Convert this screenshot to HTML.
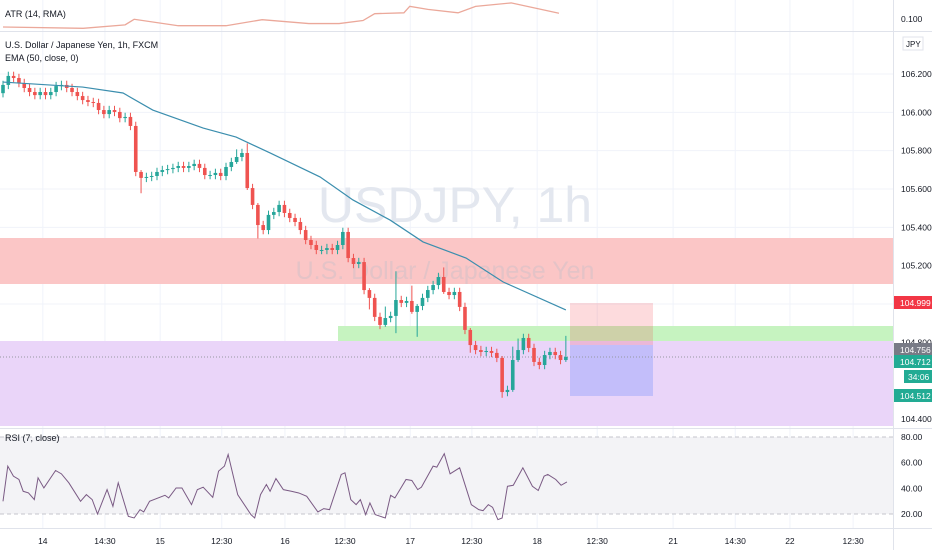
<!DOCTYPE html>
<html><head><meta charset="utf-8"><style>
html,body{margin:0;padding:0;background:#fff;}
svg{display:block;font-family:"Liberation Sans",sans-serif;}
</style></head><body>
<svg id="c" width="932" height="550" viewBox="0 0 932 550" xmlns="http://www.w3.org/2000/svg">
<g id="grid"></g>
<g id="zones">
 <rect x="0" y="238" width="893" height="46" fill="#fbc6c6"/>
 <rect x="338" y="326" width="555" height="15" fill="#c6f3c0"/>
 <rect x="0" y="341" width="893" height="85" fill="#ead5f9"/>
 <rect x="570" y="303" width="83" height="42" fill="rgba(242,54,69,0.18)"/>
 <rect x="570" y="345" width="83" height="51" fill="rgba(41,98,255,0.2)"/>
</g>
<text x="455" y="222" font-size="50" fill="#e3e7ef" text-anchor="middle">USDJPY, 1h</text>
<text x="445" y="279" font-size="25" fill="rgba(200,190,200,0.45)" text-anchor="middle">U.S. Dollar / Japanese Yen</text>
<line x1="0" y1="357" x2="893" y2="357" stroke="#9598a1" stroke-width="1" stroke-dasharray="1,2"/>
<g id="atr"></g>
<g id="candles"></g>
<g id="ema"></g>
<g id="rsi"></g>
<line x1="0" y1="31.5" x2="932" y2="31.5" stroke="#e0e3eb"/>
<line x1="0" y1="428.5" x2="932" y2="428.5" stroke="#e0e3eb"/>
<line x1="0" y1="528.5" x2="932" y2="528.5" stroke="#e0e3eb"/>
<line x1="893.5" y1="0" x2="893.5" y2="550" stroke="#e0e3eb"/>
<text x="5" y="17" font-size="9" fill="#131722">ATR (14, RMA)</text>
<text x="5" y="48" font-size="9" fill="#131722">U.S. Dollar / Japanese Yen, 1h, FXCM</text>
<text x="5" y="61" font-size="9" fill="#131722">EMA (50, close, 0)</text>
<text x="5" y="441" font-size="9" fill="#131722">RSI (7, close)</text>
<text x="901" y="22" font-size="8.5" fill="#131722">0.100</text>
<rect x="903" y="37" width="20" height="13" fill="#fff" stroke="#e0e3eb"/>
<text x="906" y="47" font-size="8" fill="#131722">JPY</text>
<g id="paxis"></g>
<g id="badges"></g>
<g id="taxis"></g>
</svg>
<script>
const NS="http://www.w3.org/2000/svg";
const closes=[106.143,106.190,106.179,106.153,106.127,106.106,106.090,106.106,106.090,106.106,
106.137,106.143,106.127,106.106,106.085,106.064,106.054,106.049,106.012,105.991,
106.012,106.002,105.970,105.976,105.929,105.689,105.658,105.663,105.668,105.689,
105.699,105.704,105.710,105.720,105.710,105.720,105.731,105.710,105.673,105.673,
105.684,105.668,105.715,105.741,105.767,105.788,105.605,105.517,105.412,105.386,
105.465,105.480,105.517,105.475,105.449,105.428,105.386,105.334,105.308,105.282,
105.282,105.292,105.282,105.308,105.376,105.240,105.209,105.219,105.073,105.032,
104.933,104.891,104.927,104.938,105.021,105.006,105.016,104.959,104.990,105.032,
105.073,105.099,105.141,105.063,105.047,105.063,104.985,104.865,104.786,104.760,
104.750,104.755,104.745,104.719,104.541,104.552,104.708,104.760,104.823,104.771,
104.698,104.682,104.734,104.750,104.734,104.708,104.724];
const firstOpen=106.100;
const bigWicks={26:[0,0.07],44:[0.03,0],46:[0.04,0],48:[0,0.06],69:[0,0.05],72:[0.05,0],74:[0.14,0.08],
77:[0.07,0],78:[0,0.12],83:[0.04,0],88:[0,0.03],94:[0,0.02],96:[0.06,0],97:[0.05,0],106:[0.1,0]};
const emaIdx=[0,15,22.6,28.2,37.7,43.9,50.3,59.7,65.9,72.9,79.1,87.2,94.2,106];
const emaVal=[106.158,106.132,106.101,106.012,105.918,105.871,105.788,105.663,105.543,105.438,105.324,105.240,105.115,104.969];
const rsiIdx=[0,0.9,1.96,3.0,3.8,4.8,5.9,6.6,7.7,9.9,11.0,12.4,14.6,15.7,16.8,17.8,19.6,20.7,21.7,23.6,24.7,25.8,26.5,27.6,30.5,31.2,32.6,33.7,35.5,36.6,37.7,39.5,40.6,41.7,42.4,44.2,46.7,47.4,48.5,49.6,50.3,51.4,52.8,54.3,55.7,57.2,59.3,60.4,61.5,63.7,64.4,65.5,66.5,67.3,68.3,69.1,70.1,72.0,73.0,73.8,75.9,77.0,78.1,78.8,81.0,81.7,83.1,84.2,86.0,88.2,89.6,90.4,91.4,92.2,93.2,94.0,95.0,96.1,97.9,99.7,100.8,101.9,102.6,104.1,105.1,106.2];
const rsiVal=[29.9,57.3,49.5,46.9,37.7,36.4,31.2,48.2,40.3,53.9,51.3,44.3,29.9,35.1,31.2,20.0,39.0,26.0,44.3,18.2,16.9,23.4,21.6,29.9,34.6,32.5,40.3,40.3,27.3,39.0,40.9,33.0,53.4,57.3,66.4,35.1,19.5,16.9,35.1,43.0,37.7,47.6,39.0,37.7,36.4,33.8,21.6,24.2,23.4,50.8,52.1,31.2,27.3,31.2,19.5,28.6,19.5,16.9,34.6,32.5,46.9,46.1,39.0,40.9,57.3,56.5,67.0,51.3,56.0,27.3,23.4,22.6,27.3,25.2,15.6,16.9,41.6,42.4,56.0,41.6,38.3,49.5,50.8,46.9,42.4,45.0];
const atrIdx=[0,15.1,23,24.7,33,42,48.8,57.6,63.3,67.8,70,75.5,76.6,80,85.7,89,95.7,104.7];
const atrVal=[0.080,0.077,0.085,0.098,0.083,0.083,0.097,0.088,0.088,0.095,0.111,0.113,0.128,0.121,0.113,0.128,0.136,0.112];
const priceTicks=[106.2,106.0,105.8,105.6,105.4,105.2,104.8,104.4];
const rsiTicks=[80,60,40,20];
const timeLabels=["14","14:30","15","12:30","16","12:30","17","12:30","18","12:30","21","14:30","22","12:30"];
const timeIdx=[7.5,19.2,29.6,41.2,53.1,64.4,76.7,88.3,100.6,111.9,126.2,137.9,148.2,160.1];

const X=i=>3+i*5.31;
const Y=p=>74+(106.2-p)*191.7;
const RY=v=>437+(80-v)*(77/60);
const AY=v=>27-(v-0.08)*430;
function el(t,a,p){const e=document.createElementNS(NS,t);for(const k in a)e.setAttribute(k,a[k]);p.appendChild(e);return e;}

const grid=document.getElementById('grid');
timeIdx.forEach(t=>{const l=el('line',{x1:X(t),x2:X(t),y1:0,y2:528,stroke:'#f0f3fa'},grid);

});
priceTicks.concat([104.6,105.0]).forEach(p=>{const l=el('line',{x1:0,x2:893,y1:Y(p),y2:Y(p),stroke:'#f0f3fa'},grid);

});

const cg=document.getElementById('candles');
let prev=firstOpen;
closes.forEach((c,i)=>{
 const o=prev; prev=c;
 const w=bigWicks[i]||[0.012,0.012];
 const hi=Math.max(o,c)+w[0]+0.01, lo=Math.min(o,c)-w[1]-0.01;
 const col=c>=o?'#26a69a':'#ef5350';
 const g=el('g',{},cg);
 
 
 el('line',{x1:X(i),x2:X(i),y1:Y(hi),y2:Y(lo),stroke:col,'stroke-width':1},g);
 const t=Math.min(Y(o),Y(c)),h=Math.max(1,Math.abs(Y(o)-Y(c)));
 el('rect',{x:X(i)-1.8,y:t,width:3.6,height:h,fill:col},g);
});

const ep=el('polyline',{points:emaIdx.map((t,k)=>X(t)+','+Y(emaVal[k])).join(' '),fill:'none',stroke:'#3b8eae','stroke-width':1.2},document.getElementById('ema'));



const ag=document.getElementById('atr');
const ap=el('polyline',{points:atrIdx.map((t,k)=>X(t)+','+AY(atrVal[k])).join(' '),fill:'none',stroke:'#eba89a','stroke-width':1.3},ag);



const rg=document.getElementById('rsi');
const band=el('rect',{x:0,y:RY(80),width:893,height:RY(20)-RY(80),fill:'#f3f3f6'},rg);


[80,20].forEach(v=>{const l=el('line',{x1:0,x2:893,y1:RY(v),y2:RY(v),stroke:'#c4c6cc','stroke-dasharray':'4,3'},rg);

});
const rp=el('polyline',{points:rsiIdx.map((t,k)=>X(t)+','+RY(rsiVal[k])).join(' '),fill:'none',stroke:'#7a5a84','stroke-width':1},rg);


rsiTicks.forEach(v=>{const t=el('text',{x:901,y:RY(v)+3,'font-size':8.5,fill:'#131722'},rg);t.textContent=v.toFixed(2);

});

const pa=document.getElementById('paxis');
priceTicks.forEach(p=>{const t=el('text',{x:901,y:Y(p)+3,'font-size':8.5,fill:'#131722'},pa);t.textContent=p.toFixed(3);

});

const bg=document.getElementById('badges');
const badgeText=["104.999","104.756","104.712","34:06","104.512"];
const badgeY=[303,350,362,377,396];
const badgeCol=['#f23645','#787b86','#22ab94','#22ab94','#22ab94'];
badgeText.forEach((s,k)=>{
 const x0=k==3?904:894;
 const r=el('rect',{x:x0,y:badgeY[k]-7,width:932-x0,height:13,fill:badgeCol[k]},bg);
 
 
 const t=el('text',{x:x0+(k==3?4:6),y:badgeY[k]+3,'font-size':8.5,fill:'#fff'},bg);t.textContent=s;
 
 
});

const ta=document.getElementById('taxis');
timeLabels.forEach((s,k)=>{const t=el('text',{x:X(timeIdx[k]),y:544,'font-size':8.5,fill:'#131722','text-anchor':'middle'},ta);t.textContent=s;

});
</script>
</body></html>
